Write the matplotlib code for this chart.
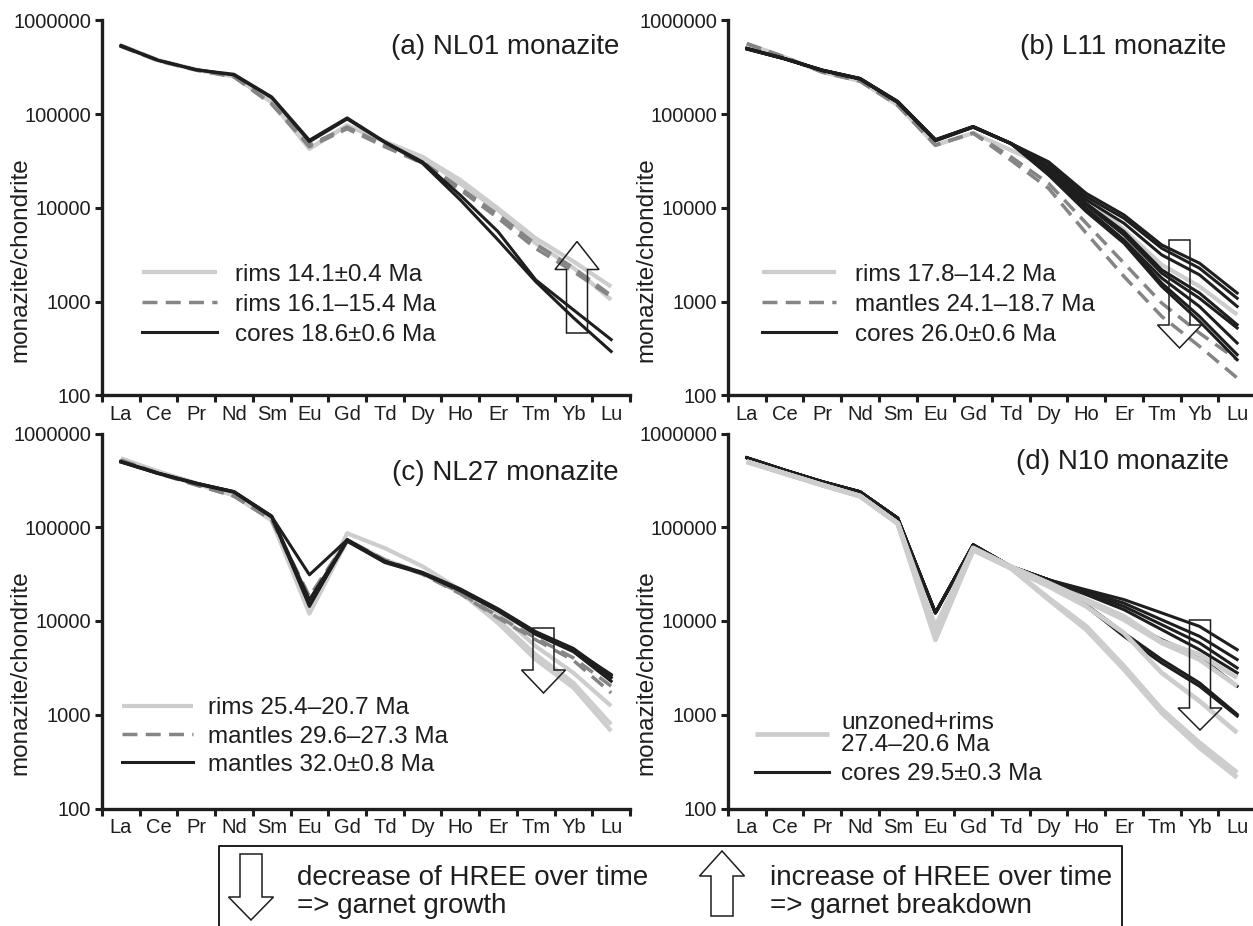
import numpy as np
import matplotlib
matplotlib.use("Agg")
import matplotlib.pyplot as plt
from matplotlib.patches import Polygon
from matplotlib.lines import Line2D
from matplotlib.transforms import Affine2D

plt.rcParams["font.family"] = ["Liberation Sans", "DejaVu Sans"]

W, H = 1253, 926

REE = ["La", "Ce", "Pr", "Nd", "Sm", "Eu", "Gd", "Td", "Dy", "Ho", "Er", "Tm", "Yb", "Lu"]
YTICKS = [100, 1000, 10000, 100000, 1000000]

# ── data (monazite / chondrite) ──────────────────────────────────────────────
A_RIMS_YOUNG = [
    [542000, 375000, 298000, 254000, 135000, 43000, 76000, 51000, 35000, 19900, 9900, 4750, 2690, 1450],
    [542000, 375000, 298000, 254000, 135000, 43000, 76000, 51000, 35000, 18200, 9500, 4200, 2300, 1050],
]
A_RIMS_OLD = [
    [542000, 375000, 298000, 254000, 130000, 46800, 73000, 46800, 31000, 16300, 8500, 4100, 2300, 1170],
    [530000, 370000, 295000, 250000, 128000, 45000, 70000, 45000, 30000, 15600, 7800, 3700, 2100, 1130],
]
A_CORES = [
    [542000, 375000, 298000, 267000, 153000, 52900, 91400, 50800, 31100, 13700, 5600, 1710, 820, 395],
    [530000, 375000, 298000, 262000, 150000, 51000, 89000, 50000, 29900, 12200, 4570, 1640, 675, 295],
]

B_RIMS = [
    [565000, 407000, 282000, 226000, 125000, 46800, 63000, 41400, 27500, 13300, 5840, 2480, 1460, 730],
]
B_MANTLES = [
    [565000, 407000, 282000, 226000, 125000, 46800, 63000, 35200, 18300, 6870, 2580, 968, 464, 241],
    [565000, 407000, 282000, 226000, 125000, 46800, 63000, 32400, 16200, 5380, 1860, 698, 335, 154],
]
B_CORES = [
    [500000, 391000, 294000, 239000, 135000, 52900, 73300, 48800, 31100, 14300, 8430, 4040, 2580, 1240],
    [500000, 391000, 294000, 239000, 135000, 52900, 73300, 48800, 29900, 13200, 7770, 3720, 2280, 1090],
    [505000, 393000, 296000, 241000, 137000, 53500, 74000, 49000, 27500, 12200, 6870, 3160, 1940, 891],
    [500000, 391000, 294000, 239000, 135000, 52900, 73300, 48800, 26400, 11200, 5600, 2190, 1240, 569],
    [495000, 389000, 292000, 237000, 133000, 52000, 72500, 48500, 25400, 10800, 5160, 2020, 1090, 525],
    [500000, 391000, 294000, 239000, 135000, 52900, 73300, 48800, 24400, 9920, 4570, 1790, 891, 363],
    [505000, 393000, 296000, 241000, 137000, 53500, 74000, 49000, 23400, 9520, 4390, 1580, 698, 273],
    [500000, 391000, 294000, 239000, 135000, 52900, 73300, 48800, 22500, 9140, 4210, 1460, 618, 241],
]

C_RIMS = [
    [542000, 391000, 294000, 221000, 120000, 12700, 86300, 59800, 38200, 21500, 12200, 5380, 2800, 1240],
    [542000, 391000, 294000, 221000, 120000, 12500, 73300, 44900, 32400, 20700, 10300, 4390, 2190, 789],
    [530000, 385000, 290000, 218000, 118000, 12000, 72000, 44000, 32000, 20200, 9520, 3880, 1940, 670],
]
C_MANTLES_YOUNG = [
    [520000, 375000, 282000, 215000, 120000, 18300, 73300, 44900, 32400, 19900, 11200, 6590, 4040, 2020],
    [520000, 375000, 282000, 215000, 120000, 16200, 71000, 44000, 31500, 19500, 10800, 6300, 3800, 1710],
]
C_MANTLES_OLD = [
    [500000, 375000, 294000, 239000, 130000, 31100, 73300, 43100, 32400, 21500, 13200, 7450, 4950, 2690],
    [500000, 375000, 294000, 239000, 130000, 16900, 72000, 43100, 32400, 21500, 13200, 7450, 4950, 2480],
    [495000, 372000, 290000, 236000, 128000, 14900, 71000, 42000, 32000, 21000, 12800, 7200, 4700, 2280],
    [505000, 378000, 296000, 240000, 132000, 14300, 74000, 43500, 33000, 22000, 13500, 7700, 5100, 2600],
]

D_RIMS = [
    [500000, 375000, 282000, 215000, 110000, 6870, 57400, 36600, 17600, 8770, 3300, 1140, 504, 241],
    [500000, 375000, 282000, 215000, 110000, 6300, 57400, 36600, 16900, 8090, 3040, 1050, 446, 214],
    [500000, 375000, 282000, 215000, 110000, 7500, 57400, 36600, 23400, 14300, 7450, 2800, 1400, 644],
    [500000, 375000, 282000, 215000, 110000, 8000, 60000, 38000, 25400, 16200, 10300, 5840, 3880, 2020],
    [500000, 375000, 282000, 215000, 110000, 8700, 60000, 38000, 25400, 16900, 11200, 6080, 4390, 2480],
]
D_CORES = [
    [551000, 407000, 306000, 239000, 125000, 12200, 64900, 38200, 27500, 21500, 16900, 12200, 8770, 4950],
    [551000, 407000, 306000, 239000, 125000, 12200, 64900, 38200, 27500, 20700, 15500, 10300, 6870, 3880],
    [551000, 407000, 306000, 239000, 125000, 12200, 64900, 38200, 27500, 19900, 14300, 9140, 5840, 3160],
    [551000, 407000, 306000, 239000, 125000, 12200, 64900, 38200, 27500, 19100, 13200, 8090, 4950, 2800],
    [551000, 407000, 306000, 239000, 125000, 12200, 64900, 38200, 27500, 16900, 10300, 6320, 4210, 2020],
    [551000, 407000, 306000, 239000, 125000, 12200, 64900, 38200, 27500, 14900, 7450, 3880, 2190, 1010],
    [551000, 407000, 306000, 239000, 125000, 12200, 64900, 38200, 27500, 14300, 6870, 3570, 2020, 968],
]

# ── styles ────────────────────────────────────────────────────────────────────
LIGHT  = dict(color="#cdcdcd", lw=3.0, ls="-", solid_capstyle="butt")
DASHED = dict(color="#858585", lw=2.5, ls=(0, (4.3, 2.4)))
DARK   = dict(color="#1e1e1e", lw=2.2, ls="-")
TXT    = "#1e1e1e"

fig = plt.figure(figsize=(W / 100, H / 100), dpi=100)
PX = Affine2D().scale(1 / W, -1 / H).translate(0, 1) + fig.transFigure


def make_axes(left, top):
    """left/top in pixels; every panel has the same size."""
    w, h = 528, 375
    return fig.add_axes([left / W, 1 - (top + h) / H, w / W, h / H])


def style_axes(ax):
    ax.set_yscale("log")
    ax.set_ylim(100, 1e6)
    ax.set_xlim(0, 14)
    ax.set_yticks(YTICKS)
    ax.set_yticklabels([str(v) for v in YTICKS])
    ax.yaxis.set_minor_locator(plt.NullLocator())
    ax.set_xticks(range(15))
    ax.set_xticklabels([])
    ax.set_xticks(np.arange(14) + 0.5, minor=True)
    ax.set_xticklabels(REE, minor=True)
    ax.tick_params(which="major", direction="out", length=5, width=2.2, color=TXT)
    ax.tick_params(axis="y", labelsize=14.5, pad=3, labelcolor=TXT)
    ax.tick_params(axis="x", which="minor", length=0, labelsize=14.5, pad=7, labelcolor=TXT)
    for s in ("top", "right"):
        ax.spines[s].set_visible(False)
    for s in ("left", "bottom"):
        ax.spines[s].set_linewidth(2.4)
        ax.spines[s].set_color(TXT)
    ax.set_ylabel("monazite/chondrite", fontsize=17.5, color=TXT)
    ax.yaxis.set_label_coords(-0.133, 0.363)
    ax.patch.set_visible(False)


def draw_group(ax, rows, style):
    x = np.arange(len(REE)) + 0.5
    for r in rows:
        ax.plot(x, r, **style)


def add_legend(ax, labels, styles, x, y, hlen, pad, spacing):
    handles = [Line2D([], [], **s) for s in styles]
    leg = ax.legend(handles, labels, loc="center left", bbox_to_anchor=(x, y),
                    frameon=False, fontsize=17.5, borderpad=0, borderaxespad=0,
                    handlelength=hlen, handletextpad=pad, labelspacing=spacing)
    for t in leg.get_texts():
        t.set_color(TXT)
        t.set_linespacing(1.0)
    return leg


def block_arrow(cx, y_tail, y_tip, sw=21, hw=44, hl=24):
    """Hollow block arrow in figure pixels (y grows downwards)."""
    d = 1 if y_tip > y_tail else -1
    yb = y_tip - d * hl
    pts = [(cx - sw / 2, y_tail), (cx + sw / 2, y_tail), (cx + sw / 2, yb),
           (cx + hw / 2, yb), (cx, y_tip), (cx - hw / 2, yb), (cx - sw / 2, yb)]
    fig.add_artist(Polygon(pts, closed=True, fill=False, ec=TXT, lw=1.1,
                           transform=PX, zorder=5))


# ── (a) NL01 ──────────────────────────────────────────────────────────────────
ax = make_axes(102, 20.5)
style_axes(ax)
draw_group(ax, A_RIMS_YOUNG, LIGHT)
draw_group(ax, A_RIMS_OLD, DASHED)
draw_group(ax, A_CORES, DARK)
ax.text(0.979, 0.929, "(a) NL01 monazite", transform=ax.transAxes, ha="right",
        va="center", fontsize=20, color=TXT)
add_legend(ax, ["rims 14.1±0.4 Ma", "rims 16.1–15.4 Ma", "cores 18.6±0.6 Ma"],
           [LIGHT, DASHED, DARK], 0.0758, 0.242, 3.09, 0.74, 0.33)

# ── (b) L11 ───────────────────────────────────────────────────────────────────
ax = make_axes(728, 20.5)
style_axes(ax)
draw_group(ax, B_RIMS, LIGHT)
draw_group(ax, B_MANTLES, DASHED)
draw_group(ax, B_CORES, DARK)
ax.text(0.943, 0.929, "(b) L11 monazite", transform=ax.transAxes, ha="right",
        va="center", fontsize=20, color=TXT)
add_legend(ax, ["rims 17.8–14.2 Ma", "mantles 24.1–18.7 Ma", "cores 26.0±0.6 Ma"],
           [LIGHT, DASHED, DARK], 0.0644, 0.242, 3.05, 0.78, 0.33)

# ── (c) NL27 ──────────────────────────────────────────────────────────────────
ax = make_axes(102, 433.5)
style_axes(ax)
draw_group(ax, C_RIMS, LIGHT)
draw_group(ax, C_MANTLES_YOUNG, DASHED)
draw_group(ax, C_MANTLES_OLD, DARK)
ax.text(0.979, 0.895, "(c) NL27 monazite", transform=ax.transAxes, ha="right",
        va="center", fontsize=20, color=TXT)
add_legend(ax, ["rims 25.4–20.7 Ma", "mantles 29.6–27.3 Ma", "mantles 32.0±0.8 Ma"],
           [LIGHT, DASHED, DARK], 0.0379, 0.192, 2.92, 0.62, 0.25)

# ── (d) N10 ───────────────────────────────────────────────────────────────────
ax = make_axes(728, 433.5)
style_axes(ax)
D_LIGHT = dict(LIGHT, lw=3.4)
draw_group(ax, D_CORES, DARK)
draw_group(ax, D_RIMS, D_LIGHT)
ax.text(0.949, 0.924, "(d) N10 monazite", transform=ax.transAxes, ha="right",
        va="center", fontsize=20, color=TXT)
add_legend(ax, ["unzoned+rims\n27.4–20.6 Ma", "cores 29.5±0.3 Ma"],
           [D_LIGHT, DARK], 0.051, 0.160, 3.05, 0.5, 0.30)

# ── arrows in the panels ──────────────────────────────────────────────────────
block_arrow(577, 333, 241.5, hl=28)       # (a) up
block_arrow(1179.5, 240, 348, hl=23)      # (b) down
block_arrow(543.5, 628, 693, hl=23)       # (c) down
block_arrow(1200, 620, 730, hl=22)        # (d) down

# ── explanation box at the bottom ─────────────────────────────────────────────
fig.add_artist(Line2D([219, 219, 1122, 1122], [960, 845.7, 845.7, 960],
                      color=TXT, lw=1.4, transform=PX))
block_arrow(251, 854, 920, sw=22, hw=45, hl=23)
block_arrow(722, 916, 851, sw=22, hw=45, hl=25)
for x0, l1, l2 in [(297, "decrease of HREE over time", "=> garnet growth"),
                   (770, "increase of HREE over time", "=> garnet breakdown")]:
    fig.text(x0, 885, l1, transform=PX, fontsize=20, color=TXT, va="baseline")
    fig.text(x0, 913, l2, transform=PX, fontsize=20, color=TXT, va="baseline")

fig.savefig("out.png", dpi=100)
